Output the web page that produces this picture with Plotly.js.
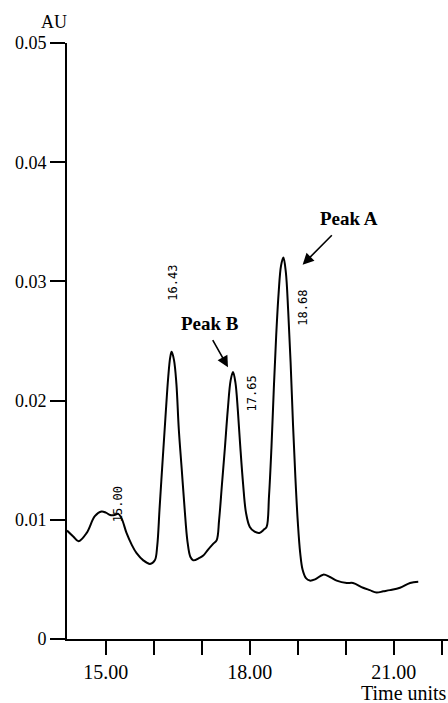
<!DOCTYPE html>
<html>
<head>
<meta charset="utf-8">
<script src="https://cdn.plot.ly/plotly-3.0.1.min.js"></script>
<style>html,body{margin:0;padding:0;background:#fff;}#chart{width:448px;height:703px;}</style>
</head>
<body>
<div id="chart"></div>
<script>
// Time (x) and absorbance (AU)
var time = [14.19, 14.32, 14.43, 14.60, 14.77, 14.91, 15.00, 15.09, 15.18, 15.26, 15.33, 15.43, 15.54, 15.64, 15.78, 15.92,
  16.02, 16.07, 16.12, 16.18, 16.24, 16.30, 16.34, 16.37, 16.42, 16.47, 16.52, 16.58, 16.64, 16.70, 16.76, 16.82,
  16.95, 17.03, 17.13, 17.24, 17.31, 17.36, 17.42, 17.48, 17.54, 17.60, 17.65, 17.70, 17.75, 17.80, 17.86, 17.92,
  18.00, 18.10, 18.20, 18.30, 18.35, 18.40, 18.45, 18.50, 18.55, 18.60, 18.65, 18.70, 18.75, 18.80, 18.85, 18.90,
  18.95, 19.00, 19.05, 19.10, 19.17, 19.25, 19.36, 19.53, 19.67, 19.81, 20.02, 20.15, 20.36, 20.50, 20.64, 20.78,
  20.92, 21.13, 21.34, 21.51];
var au = [0.0091, 0.0086, 0.0082, 0.0089, 0.0103, 0.0107, 0.0106, 0.0104, 0.0104, 0.0105, 0.0101, 0.0089, 0.0079, 0.0072, 0.0066, 0.0063,
  0.0066, 0.0078, 0.0110, 0.0148, 0.0185, 0.0220, 0.0236, 0.0241, 0.0234, 0.0214, 0.0176, 0.0143, 0.0110, 0.0082, 0.0069, 0.0066,
  0.0068, 0.0070, 0.0075, 0.0080, 0.0083, 0.0100, 0.0130, 0.0160, 0.0192, 0.0217, 0.0224, 0.0215, 0.0192, 0.0162, 0.0130, 0.0106,
  0.0094, 0.0090, 0.0089, 0.0092, 0.0094, 0.0120, 0.0160, 0.0210, 0.0255, 0.0290, 0.0313, 0.0320, 0.0308, 0.0275, 0.0232, 0.0180,
  0.0135, 0.0098, 0.0072, 0.0058, 0.0051, 0.0049, 0.0050, 0.0054, 0.0052, 0.0049, 0.0047, 0.0047, 0.0043, 0.0041, 0.0039, 0.0040,
  0.0041, 0.0043, 0.0047, 0.0048];

var xTickVals = [15, 16, 17, 18, 19, 20, 21, 22];
var xTickText = ['15.00', '', '', '18.00', '', '', '21.00', ''];
var yTickVals = [0, 0.01, 0.02, 0.03, 0.04, 0.05];
var yTickText = ['0', '0.01', '0.02', '0.03', '0.04', '0.05'];

var peakTimes = ['15.00', '16.43', '17.65', '18.68'];
var peakLabelX = [15.25, 16.40, 18.065, 19.09];
var peakLabelY = [0.0113, 0.0299, 0.0206, 0.0278];

var serif = 'Liberation Serif, Times New Roman, serif';
var mono = 'DejaVu Sans Mono, monospace';

var annotations = [];
for (var i = 0; i < peakTimes.length; i++) {
  annotations.push({x: peakLabelX[i], y: peakLabelY[i], xref: 'x', yref: 'y', text: peakTimes[i],
    showarrow: false, textangle: -90, font: {family: mono, size: 12, color: '#000'}, xanchor: 'center', yanchor: 'middle'});
}
annotations.push({x: 20.06, y: 0.0353, xref: 'x', yref: 'y', text: '<b>Peak A</b>', showarrow: false,
  font: {family: serif, size: 19, color: '#000'}});
annotations.push({x: 17.17, y: 0.0265, xref: 'x', yref: 'y', text: '<b>Peak B</b>', showarrow: false,
  font: {family: serif, size: 19, color: '#000'}});
annotations.push({x: 19.10, y: 0.0314, xref: 'x', yref: 'y', ax: 19.74, ay: 0.0340, axref: 'x', ayref: 'y',
  text: '', showarrow: true, arrowhead: 2, arrowsize: 1.4, arrowwidth: 1.6, arrowcolor: '#000'});
annotations.push({x: 17.545, y: 0.0228, xref: 'x', yref: 'y', ax: 17.21, ay: 0.0252, axref: 'x', ayref: 'y',
  text: '', showarrow: true, arrowhead: 2, arrowsize: 1.4, arrowwidth: 1.6, arrowcolor: '#000'});
annotations.push({x: -0.034, y: 1.035, xref: 'paper', yref: 'paper', text: 'AU', showarrow: false,
  font: {family: serif, size: 18, color: '#000'}, xanchor: 'center', yanchor: 'middle'});
annotations.push({x: 0.766, y: -0.0906, xref: 'paper', yref: 'paper', text: 'Time units', showarrow: false,
  font: {family: serif, size: 20, color: '#000'}, xanchor: 'left', yanchor: 'middle'});

var trace = {x: time, y: au, type: 'scatter', mode: 'lines',
  line: {color: '#000', width: 2, shape: 'spline', smoothing: 1}, hoverinfo: 'skip'};

var layout = {
  width: 448, height: 703,
  margin: {l: 67, r: 0, t: 43, b: 64},
  paper_bgcolor: '#fff', plot_bgcolor: '#fff',
  showlegend: false,
  font: {family: serif, size: 18, color: '#000'},
  xaxis: {range: [14.19, 22.13], tickmode: 'array', tickvals: xTickVals, ticktext: xTickText,
    showline: true, linecolor: '#000', linewidth: 2, ticks: 'outside', ticklen: 14, tickwidth: 2, tickcolor: '#000',
    showgrid: false, zeroline: false, tickfont: {family: serif, size: 20, color: '#000'}},
  yaxis: {range: [0, 0.05], tickmode: 'array', tickvals: yTickVals, ticktext: yTickText,
    showline: true, linecolor: '#000', linewidth: 2, ticks: 'outside', ticklen: 15, tickwidth: 2, tickcolor: '#000',
    showgrid: false, zeroline: false, tickfont: {family: serif, size: 18, color: '#000'}},
  annotations: annotations
};

Plotly.newPlot('chart', [trace], layout, {displayModeBar: false, staticPlot: true});
</script>
</body>
</html>
